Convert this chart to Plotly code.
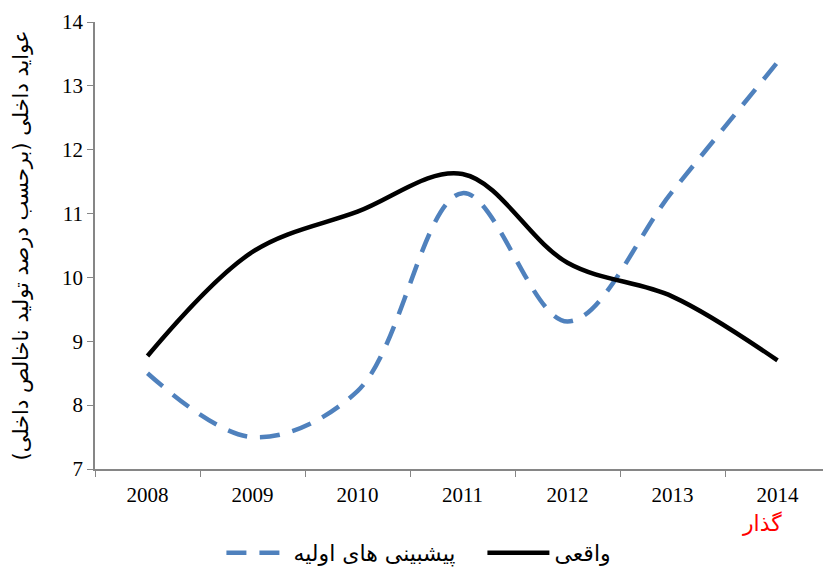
import plotly.graph_objects as go

years = [2008, 2009, 2010, 2011, 2012, 2013, 2014]
year_labels = ["2008", "2009", "2010", "2011", "2012", "2013", "2014"]
actual = [8.77, 10.40, 11.03, 11.62, 10.23, 9.70, 8.70]
forecast = [8.50, 7.50, 8.22, 11.32, 9.31, 11.35, 13.37]
name_forecast = "پیشبینی های اولیه"
name_actual = "واقعی"
y_title = "عوايد داخلی (برحسب درصد تولید ناخالص داخلی)"
note = "گذار"

fig = go.Figure()
fig.add_trace(go.Scatter(
    x=years, y=forecast, name=name_forecast, mode="lines",
    line=dict(color="#4F81BD", width=4.5, dash="20px,13px", shape="spline", smoothing=1.0),
))
fig.add_trace(go.Scatter(
    x=years, y=actual, name=name_actual, mode="lines",
    line=dict(color="#000000", width=4.5, shape="spline", smoothing=1.0),
))

axis_font = dict(family="Liberation Serif, Times New Roman, serif", size=21, color="#000000")
arabic = "DejaVu Sans, Noto Sans, sans-serif"
fig.update_layout(
    width=823, height=559,
    margin=dict(l=87, r=1, t=14, b=98, autoexpand=False),
    paper_bgcolor="white", plot_bgcolor="white",
    showlegend=True,
    legend=dict(orientation="h", x=0.172, xanchor="left", y=-0.188, yanchor="middle",
                itemwidth=62, entrywidth=184, entrywidthmode="pixels",
                font=dict(family=arabic, size=22, color="#000")),
    xaxis=dict(range=[2007.5, 2014.5], showline=True, linecolor="#868686", linewidth=1.5,
               tickmode="array", tickvals=years, ticktext=year_labels, ticks="",
               ticklabelstandoff=6,
               minor=dict(ticks="outside", tick0=2007.5, dtick=1, ticklen=6, tickcolor="#868686", showgrid=False),
               showgrid=False, tickfont=axis_font, zeroline=False),
    yaxis=dict(range=[7, 14], dtick=1, showline=True, linecolor="#868686", linewidth=1.5,
               ticks="outside", ticklen=6, tickcolor="#868686", showgrid=False,
               tickfont=axis_font, zeroline=False),
    annotations=[
        dict(text=y_title, x=-0.102, y=0.5, xref="paper", yref="paper", textangle=-90,
             xanchor="center", yanchor="middle", showarrow=False,
             font=dict(family=arabic, size=21, color="#000")),
        dict(text=note, x=0.908, y=-0.123, xref="paper", yref="paper",
             xanchor="center", yanchor="middle", showarrow=False,
             font=dict(family=arabic, size=22, color="#FF0000")),
    ],
)
fig.write_html("out.html")
